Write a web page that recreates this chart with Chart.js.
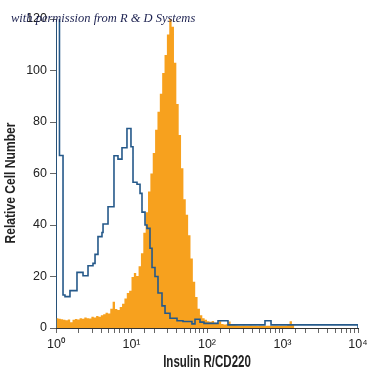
<!DOCTYPE html>
<html>
<head>
<meta charset="utf-8">
<script src="https://cdn.jsdelivr.net/npm/chart.js@4"></script>
<style>
  body { margin: 0; background: #fff; }
  #wrap { width: 375px; height: 375px; }
</style>
</head>
<body>
<div id="wrap"><canvas id="histChart" width="375" height="375"></canvas></div>
<script>
// Isotype control (blue outline): step start as log10 intensity, and cell count
const isotypeLog = [0, 0, 0.046, 0.093, 0.119, 0.185, 0.278, 0.358, 0.424, 0.490, 0.517, 0.556, 0.609,
  0.623, 0.689, 0.768, 0.821, 0.874, 0.940, 0.993, 1.020, 1.073, 1.113, 1.139, 1.179, 1.205, 1.245,
  1.272, 1.311, 1.351, 1.404, 1.444, 1.510, 1.603, 1.682, 1.801, 1.841, 1.907, 1.960, 2.146, 2.278,
  2.768, 2.848, 4];
const isotypeCount = [0, 200, 67, 12.8, 12.2, 14.5, 21.6, 20.3, 24.2, 25.1, 28.6, 35.5, 37.1,
  40.4, 47.1, 66.9, 65.6, 70, 77.5, 70.4, 56.6, 55.8, 52.3, 45, 40, 38.7, 31,
  23.5, 20, 13.6, 8.6, 5.7, 3.8, 2.8, 2.5, 1.6, 3.4, 2.3, 1.8, 2.8, 1.2,
  2.8, 1.2, 0];

// Insulin R/CD220 stained cells (orange): bins of 1/32 decade starting at 10^0
const stainedBinsPerDecade = 32;
const stainedCount = [
  3.8, 3.6, 3.4, 3.2, 3.0, 3.3, 2.2, 3.2, 3.5, 3.3,
  3.8, 3.6, 4.1, 3.8, 3.7, 4.4, 4.1, 4.7, 4.4, 5.0,
  5.3, 5.9, 5.6, 7.5, 10.2, 7.4, 7.0, 8.2, 9.4, 11.5,
  13.6, 14.5, 19.8, 21.4, 20.2, 24.0, 29.0, 37.0, 45.0, 53.0,
  60.0, 68.0, 77.0, 84.0, 91.0, 99.0, 106.0, 114.0, 120.3, 117.0,
  103.0, 87.0, 75.0, 62.0, 50.0, 44.0, 36.0, 27.0, 18.0, 12.0,
  7.5, 5.0, 3.8, 3.2, 2.6, 2.4, 2.7, 2.0, 1.8, 2.6,
  1.6, 1.4, 1.5, 2.5, 1.4, 1.2, 1.1, 1.0, 0.9, 1.0,
  0.9, 0.9, 1.0, 0.9, 0.9, 0.8, 0.9, 0.9, 0.8, 0.9,
  0.9, 0.8, 0.9, 0.9, 0.8, 0.9, 0.9, 0.9, 1.4, 2.6,
  1.2, 0
];

const yTicks = [0, 20, 40, 60, 80, 100, 120];
const xDecades = ['10\u2070', '10\u00b9', '10\u00b2', '10\u00b3', '10\u2074'];

const xTitle = 'Insulin R/CD220';
const yTitle = 'Relative Cell Number';
const credit = 'with permission from R & D Systems';

const tickFont = "'Liberation Sans', Arial, sans-serif";

// build {x, y} points
const isotypePoints = isotypeLog.map((lx, i) => ({ x: Math.pow(10, lx), y: isotypeCount[i] }));
const stainedPoints = stainedCount.map((c, i) => ({ x: Math.pow(10, i / stainedBinsPerDecade), y: c }));

// axis titles (condensed look) + watermark text
const textPlugin = {
  id: 'texts',
  afterDraw(chart) {
    const ctx = chart.ctx;
    const area = chart.chartArea;
    ctx.save();
    ctx.fillStyle = '#222';
    ctx.textAlign = 'center';
    ctx.textBaseline = 'middle';

    // x title
    ctx.save();
    ctx.font = "bold 16px 'Liberation Sans', Arial, sans-serif";
    ctx.translate((area.left + area.right) / 2, 363);
    ctx.scale(0.72, 1);
    ctx.fillText(xTitle, 0, 0);
    ctx.restore();

    // y title
    ctx.save();
    ctx.font = "bold 15.5px 'Liberation Sans', Arial, sans-serif";
    ctx.translate(11, 183);
    ctx.rotate(-Math.PI / 2);
    ctx.scale(0.78, 1);
    ctx.fillText(yTitle, 0, 0);
    ctx.restore();

    // watermark
    ctx.font = "italic 12.5px 'Liberation Serif', 'DejaVu Serif', serif";
    ctx.fillStyle = '#1c2150';
    ctx.textAlign = 'left';
    ctx.textBaseline = 'alphabetic';
    ctx.fillText(credit, 11, 22);
    ctx.restore();
  }
};

new Chart(document.getElementById('histChart'), {
  type: 'line',
  data: {
    datasets: [
      {
        label: 'Isotype',
        data: isotypePoints,
        stepped: 'before',
        borderColor: '#25598a',
        borderWidth: 1.6,
        pointRadius: 0,
        fill: false
      },
      {
        label: 'Insulin R/CD220',
        data: stainedPoints,
        stepped: 'before',
        borderColor: '#f7a11e',
        borderWidth: 0,
        backgroundColor: '#f7a11e',
        pointRadius: 0,
        fill: 'origin'
      }
    ]
  },
  options: {
    responsive: false,
    animation: false,
    layout: { padding: { left: 0, right: 17, top: 19, bottom: 0 } },
    plugins: {
      legend: { display: false },
      tooltip: { enabled: false }
    },
    scales: {
      x: {
        type: 'logarithmic',
        min: 1,
        max: 10000,
        afterFit: (scale) => { scale.height = 47; },
        border: { color: '#333', width: 1 },
        grid: { drawOnChartArea: false, tickLength: 5, tickColor: '#666' },
        ticks: {
          autoSkip: false,
          maxRotation: 0,
          padding: 4,
          color: '#222',
          font: { family: tickFont, size: 12.5 },
          callback: function(value) {
            const e = Math.log10(value);
            if (Math.abs(e - Math.round(e)) < 1e-9) return xDecades[Math.round(e)];
            return '';
          }
        }
      },
      y: {
        min: 0,
        max: 120,
        afterFit: (scale) => { scale.width = 56; },
        afterBuildTicks: (scale) => { scale.ticks = yTicks.map(v => ({ value: v })); },
        border: { color: '#333', width: 1 },
        grid: { drawOnChartArea: false, tickLength: 6, tickColor: '#666' },
        ticks: {
          padding: 3,
          color: '#222',
          font: { family: tickFont, size: 12.5 }
        }
      }
    }
  },
  plugins: [textPlugin]
});
</script>
</body>
</html>
